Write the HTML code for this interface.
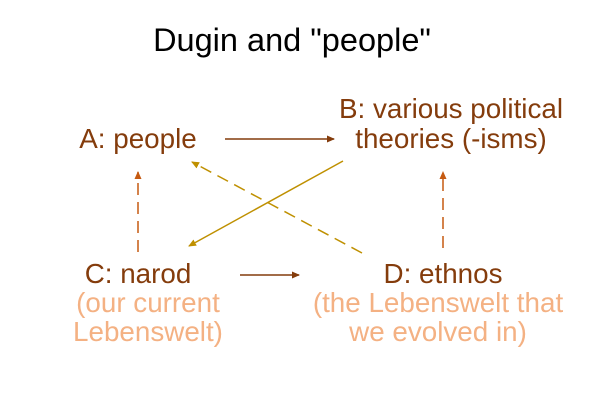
<!DOCTYPE html>
<html><head><style>
html,body{margin:0;padding:0;background:#fff;}
svg text{font-family:"Liberation Sans",Arial,sans-serif;}
</style></head><body>
<svg width="600" height="400" viewBox="0 0 600 400" xmlns="http://www.w3.org/2000/svg">
<defs>
<marker id="mb" markerWidth="8" markerHeight="8" refX="7" refY="4" orient="auto" markerUnits="userSpaceOnUse"><path d="M0,0.5 L8,4 L0,7.5 z" fill="#843c0c"/></marker>
<marker id="mo" markerWidth="8" markerHeight="8" refX="7" refY="4" orient="auto" markerUnits="userSpaceOnUse"><path d="M0,0.5 L8,4 L0,7.5 z" fill="#c55a11"/></marker>
<marker id="mg" markerWidth="8" markerHeight="8" refX="7" refY="4" orient="auto" markerUnits="userSpaceOnUse"><path d="M0,0.5 L8,4 L0,7.5 z" fill="#bf9000"/></marker>
</defs>
<text x="292" y="51" font-size="32.5" text-anchor="middle" fill="#000">Dugin and "people"</text>
<g font-size="27.8" text-anchor="middle" fill="#843c0c">
<text x="138" y="148">A: people</text>
<text x="451" y="118">B: various political</text>
<text x="451" y="148">theories (-isms)</text>
<text x="138" y="283">C: narod</text>
<text x="443" y="283">D: ethnos</text>
</g>
<g font-size="27.8" text-anchor="middle" fill="#f4b183">
<text x="148" y="312">(our current</text>
<text x="148" y="341">Lebenswelt)</text>
<text x="438" y="312">(the Lebenswelt that</text>
<text x="438" y="341">we evolved in)</text>
</g>
<line x1="225" y1="139" x2="334" y2="139" stroke="#843c0c" stroke-width="1.5" marker-end="url(#mb)"/>
<line x1="240" y1="275" x2="299" y2="275" stroke="#843c0c" stroke-width="1.5" marker-end="url(#mb)"/>
<line x1="343" y1="161" x2="189" y2="246" stroke="#bf9000" stroke-width="1.5" marker-end="url(#mg)"/>
<line x1="362" y1="253" x2="192" y2="162" stroke="#bf9000" stroke-width="1.5" stroke-dasharray="12,7" marker-end="url(#mg)"/>
<line x1="138" y1="252" x2="138" y2="172" stroke="#c55a11" stroke-width="1.5" stroke-dasharray="12,7" marker-end="url(#mo)"/>
<line x1="443" y1="248" x2="443" y2="172" stroke="#c55a11" stroke-width="1.5" stroke-dasharray="12,7" marker-end="url(#mo)"/>
</svg>
</body></html>
